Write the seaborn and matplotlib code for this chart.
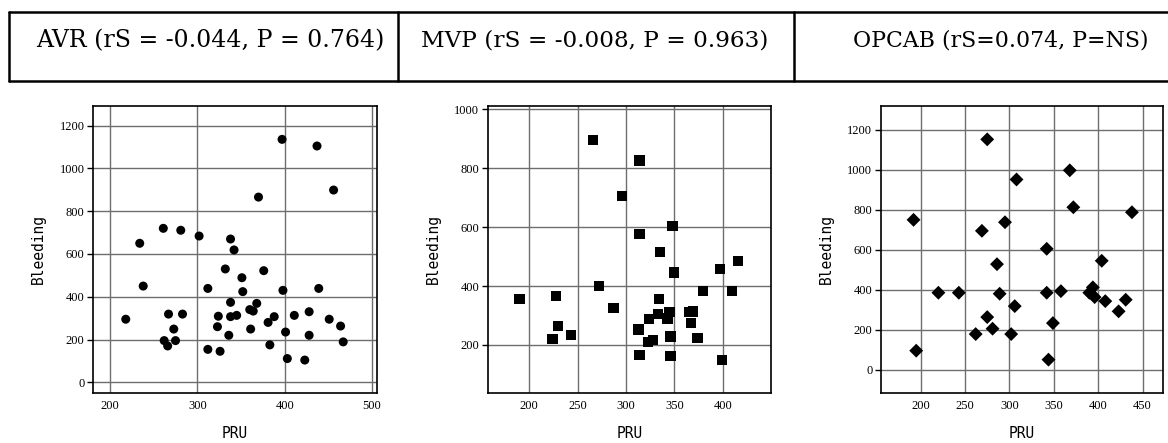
import matplotlib
matplotlib.use("Agg")
import matplotlib.pyplot as plt
import seaborn as sns
import pandas as pd
from matplotlib.lines import Line2D

# ---------------- data ----------------
avr_pru = [218, 234, 238, 261, 262, 266, 267, 273, 275, 281, 283, 302, 312, 312, 324, 323, 326,
           332, 336, 338, 338, 338, 342, 345, 351, 352, 360, 364, 361, 368, 370, 376, 381, 383,
           388, 397, 398, 401, 403, 411, 423, 428, 428, 437, 439, 451, 456, 464, 467]
avr_bleed = [295, 650, 450, 720, 195, 170, 319, 249, 195, 711, 319, 684, 439, 154, 309, 260, 145,
             530, 220, 670, 374, 307, 619, 313, 489, 424, 340, 333, 249, 369, 866, 522, 280, 175,
             307, 1136, 430, 235, 111, 313, 104, 330, 220, 1105, 439, 295, 899, 263, 189]

mvp_pru = [190, 224, 228, 230, 243, 266, 272, 287, 296, 314, 314, 313, 314, 323, 324, 328, 333,
           334, 335, 343, 345, 346, 346, 348, 350, 365, 369, 367, 374, 380, 397, 399, 410, 416]
mvp_bleed = [356, 220, 367, 265, 235, 896, 399, 325, 706, 826, 577, 252, 166, 209, 289, 216, 306,
             356, 515, 290, 312, 229, 162, 604, 446, 312, 314, 275, 224, 383, 458, 150, 382, 485]

opcab_pru = [192, 195, 220, 243, 262, 269, 275, 275, 281, 286, 289, 295, 302, 306, 308, 342, 342,
             344, 349, 358, 368, 372, 390, 394, 396, 404, 408, 423, 431, 438]
opcab_bleed = [750, 95, 385, 385, 178, 695, 1153, 263, 205, 528, 380, 738, 178, 318, 952, 605, 385,
               50, 233, 393, 998, 813, 385, 412, 363, 545, 343, 292, 350, 788]

titles = ["AVR (rS = -0.044, P = 0.764)", "MVP (rS = -0.008, P = 0.963)", "OPCAB (rS=0.074, P=NS)"]
x_label = "PRU"
y_label = "Bleeding"

# ---------------- style ----------------
sns.set_style("whitegrid")
plt.rcParams["font.family"] = ["DejaVu Sans"]

W, H = 1168, 443
fig = plt.figure(figsize=(W / 100, H / 100), dpi=100)

def ax_rect(l, r, t, b):
    return [l / W, 1 - b / H, (r - l) / W, (b - t) / H]

panels = [
    dict(rect=ax_rect(93, 377, 106, 393), x=avr_pru, y=avr_bleed, marker="o", s=42,
         xlim=(180.5, 505.7), ylim=(-50, 1292), xt=[200, 300, 400, 500], yt=[0, 200, 400, 600, 800, 1000, 1200]),
    dict(rect=ax_rect(487.7, 771, 106, 393), x=mvp_pru, y=mvp_bleed, marker="s", s=55,
         xlim=(157, 450), ylim=(37, 1011), xt=[200, 250, 300, 350, 400], yt=[200, 400, 600, 800, 1000]),
    dict(rect=ax_rect(880.7, 1163, 106, 393), x=opcab_pru, y=opcab_bleed, marker="D", s=50,
         xlim=(155, 473), ylim=(-117, 1320), xt=[200, 250, 300, 350, 400, 450], yt=[0, 200, 400, 600, 800, 1000, 1200]),
]

for p in panels:
    ax = fig.add_axes(p["rect"])
    df = pd.DataFrame({"PRU": p["x"], "Bleeding": p["y"]})
    sns.scatterplot(data=df, x="PRU", y="Bleeding", ax=ax, marker=p["marker"], s=p["s"],
                    color="black", edgecolor="none", linewidth=0, zorder=3)
    ax.set_xlim(*p["xlim"])
    ax.set_ylim(*p["ylim"])
    ax.set_xticks(p["xt"])
    ax.set_yticks(p["yt"])
    ax.grid(True, color="#6e6e6e", linewidth=1.0)
    ax.set_axisbelow(True)
    for sp in ax.spines.values():
        sp.set_color("black")
        sp.set_linewidth(1.2)
    ax.tick_params(axis="y", which="both", left=True, length=4, width=1, color="black", pad=2)
    ax.tick_params(axis="x", which="both", bottom=False, length=0, pad=5)
    for lab in ax.get_xticklabels() + ax.get_yticklabels():
        lab.set_fontfamily("Liberation Serif")
        lab.set_fontsize(9)
        lab.set_color("black")
    ax.set_xlabel(x_label, fontsize=10.5, color="black", labelpad=10, family="DejaVu Sans Mono")
    ax.set_ylabel(y_label, fontsize=10.5, color="black", labelpad=10, family="DejaVu Sans Mono")

# ---------------- header table ----------------
top = 1 - 11.7 / H
bot = 1 - 81 / H
lw = 1.8
fig.add_artist(Line2D([9 / W, 1.0], [top, top], color="black", lw=lw, transform=fig.transFigure))
fig.add_artist(Line2D([9 / W, 1.0], [bot, bot], color="black", lw=lw, transform=fig.transFigure))
for xv in [9, 398, 794]:
    fig.add_artist(Line2D([xv / W, xv / W], [top, bot], color="black", lw=lw, transform=fig.transFigure))

centers = [210, 595, 1001]
sizes = [17.0, 16.7, 15.8]
for c, t, fs in zip(centers, titles, sizes):
    fig.text(c / W, 1 - 41 / H, t, ha="center", va="center", fontsize=fs,
             family="DejaVu Serif", color="black")

fig.savefig("out.png", dpi=100)
